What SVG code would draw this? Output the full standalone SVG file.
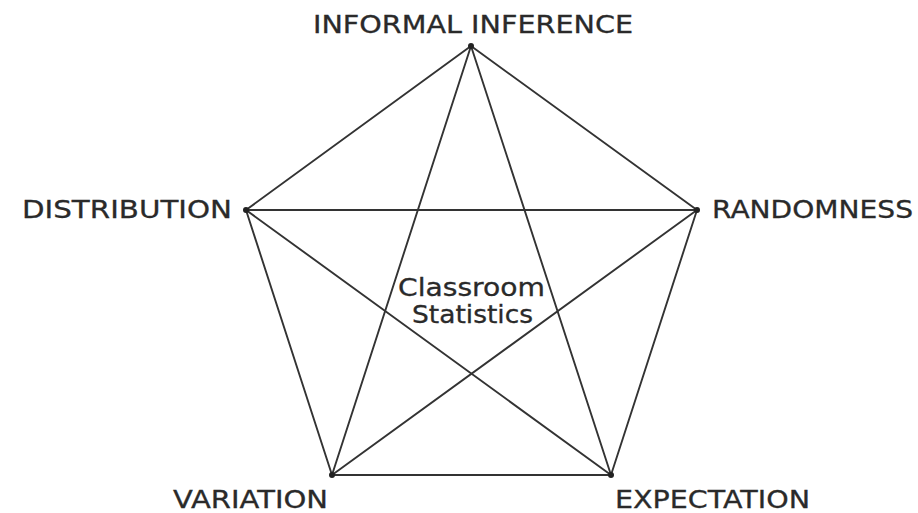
<svg xmlns="http://www.w3.org/2000/svg" width="918" height="513" viewBox="0 0 918 513">
<style>
.e{stroke:#333;stroke-width:1.9;fill:none;stroke-linecap:round}
.t{font-family:"DejaVu Sans",Verdana,sans-serif;font-size:24px;fill:#2a2a2a;stroke:#2a2a2a;stroke-width:0.3}
.v{fill:#222}
</style>
<rect width="918" height="513" fill="#fff"/>
<g id="connectors">
<line class="e" x1="471" y1="46" x2="246" y2="210"/>
<line class="e" x1="471" y1="46" x2="697" y2="210"/>
<line class="e" x1="471" y1="46" x2="332" y2="475"/>
<line class="e" x1="471" y1="46" x2="611" y2="475"/>
<line class="e" x1="246" y1="210" x2="697" y2="210"/>
<line class="e" x1="246" y1="210" x2="332" y2="475"/>
<line class="e" x1="246" y1="210" x2="611" y2="475"/>
<line class="e" x1="697" y1="210" x2="332" y2="475"/>
<line class="e" x1="697" y1="210" x2="611" y2="475"/>
<line class="e" x1="332" y1="475" x2="611" y2="475"/>
</g>
<g id="informal-inference"><circle class="v" cx="471" cy="46" r="3"/><text class="t" x="313" y="33" textLength="320" lengthAdjust="spacingAndGlyphs">INFORMAL INFERENCE</text></g>
<g id="distribution"><circle class="v" cx="246" cy="210" r="3"/><text class="t" x="22" y="218" textLength="210" lengthAdjust="spacingAndGlyphs">DISTRIBUTION</text></g>
<g id="randomness"><circle class="v" cx="697" cy="210" r="3"/><text class="t" x="712" y="218" textLength="201" lengthAdjust="spacingAndGlyphs">RANDOMNESS</text></g>
<g id="variation"><circle class="v" cx="332" cy="475" r="3"/><text class="t" x="173" y="508" textLength="155" lengthAdjust="spacingAndGlyphs">VARIATION</text></g>
<g id="expectation"><circle class="v" cx="611" cy="475" r="3"/><text class="t" x="615" y="508" textLength="195" lengthAdjust="spacingAndGlyphs">EXPECTATION</text></g>
<g id="classroom-statistics"><text class="t" x="398" y="296" textLength="147" lengthAdjust="spacingAndGlyphs">Classroom</text><text class="t" x="412" y="323" textLength="121" lengthAdjust="spacingAndGlyphs">Statistics</text></g>
</svg>
